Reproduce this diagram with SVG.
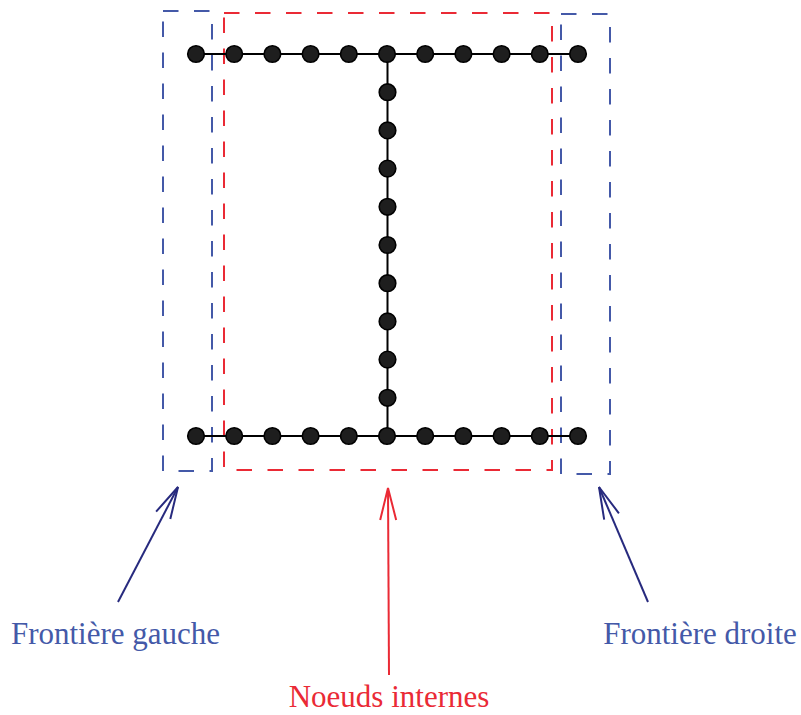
<svg xmlns="http://www.w3.org/2000/svg" width="801" height="715" viewBox="0 0 801 715">
<style>
.dot{fill:#1e1e1e;stroke:#000;stroke-width:1.6}
.beam{stroke:#000;stroke-width:2;fill:none}
.bbox{fill:none;stroke:#4459a8;stroke-width:2;stroke-dasharray:15.5 15.5}
.rbox{fill:none;stroke:#ea2a35;stroke-width:2;stroke-dasharray:15.5 15.5}
.arrB{stroke:#272a7e;stroke-width:2;fill:none}
.arrR{stroke:#ea2a35;stroke-width:2;fill:none}
.lbl{font-family:"Liberation Serif","DejaVu Serif",serif;font-size:31px}
</style>
<defs>
<marker id="hB" markerUnits="userSpaceOnUse" orient="auto" markerWidth="40" markerHeight="24" refX="0" refY="0" viewBox="-36 -12 40 24" overflow="visible">
<path d="M -32 -8 L 0 0 L -32 8" fill="none" stroke="#272a7e" stroke-width="2"/>
</marker>
<marker id="hR" markerUnits="userSpaceOnUse" orient="auto" markerWidth="40" markerHeight="24" refX="0" refY="0" viewBox="-36 -12 40 24" overflow="visible">
<path d="M -32 -8 L 0 0 L -32 8" fill="none" stroke="#ea2a35" stroke-width="2"/>
</marker>
</defs>
<g id="regions">
<rect id="frontiere-gauche-box" class="bbox" x="163" y="11" width="49" height="460"/>
<rect id="noeuds-internes-box" class="rbox" x="224" y="13" width="328" height="457"/>
<rect id="frontiere-droite-box" class="bbox" x="561" y="14" width="49" height="460"/>
</g>
<g id="connectors">
<path class="beam" d="M196 54H578M196 436H578M387.5 54V436"/>
<path class="arrB" d="M118 602L178 487" marker-end="url(#hB)"/>
<path class="arrR" d="M389 675L388 488" marker-end="url(#hR)"/>
<path class="arrB" d="M648 602L599 487" marker-end="url(#hB)"/>
</g>
<g id="nodes">
<g id="top-row">
<circle class="dot" cx="196" cy="54" r="8.3"/><circle class="dot" cx="234.2" cy="54" r="8.3"/><circle class="dot" cx="272.4" cy="54" r="8.3"/><circle class="dot" cx="310.6" cy="54" r="8.3"/><circle class="dot" cx="348.8" cy="54" r="8.3"/><circle class="dot" cx="387" cy="54" r="8.3"/><circle class="dot" cx="425.2" cy="54" r="8.3"/><circle class="dot" cx="463.4" cy="54" r="8.3"/><circle class="dot" cx="501.6" cy="54" r="8.3"/><circle class="dot" cx="539.8" cy="54" r="8.3"/><circle class="dot" cx="578" cy="54" r="8.3"/>
</g>
<g id="web">
<circle class="dot" cx="387.5" cy="92.2" r="8.3"/><circle class="dot" cx="387.5" cy="130.4" r="8.3"/><circle class="dot" cx="387.5" cy="168.6" r="8.3"/><circle class="dot" cx="387.5" cy="206.8" r="8.3"/><circle class="dot" cx="387.5" cy="245" r="8.3"/><circle class="dot" cx="387.5" cy="283.2" r="8.3"/><circle class="dot" cx="387.5" cy="321.4" r="8.3"/><circle class="dot" cx="387.5" cy="359.6" r="8.3"/><circle class="dot" cx="387.5" cy="397.8" r="8.3"/>
</g>
<g id="bottom-row">
<circle class="dot" cx="196" cy="436" r="8.3"/><circle class="dot" cx="234.2" cy="436" r="8.3"/><circle class="dot" cx="272.4" cy="436" r="8.3"/><circle class="dot" cx="310.6" cy="436" r="8.3"/><circle class="dot" cx="348.8" cy="436" r="8.3"/><circle class="dot" cx="387" cy="436" r="8.3"/><circle class="dot" cx="425.2" cy="436" r="8.3"/><circle class="dot" cx="463.4" cy="436" r="8.3"/><circle class="dot" cx="501.6" cy="436" r="8.3"/><circle class="dot" cx="539.8" cy="436" r="8.3"/><circle class="dot" cx="578" cy="436" r="8.3"/>
</g>
</g>
<g id="labels">
<text id="lbl-gauche" class="lbl" x="115.5" y="644" text-anchor="middle" fill="#4459a8">Frontière gauche</text>
<text id="lbl-internes" class="lbl" x="389" y="707" text-anchor="middle" fill="#ea2a35">Noeuds internes</text>
<text id="lbl-droite" class="lbl" x="700" y="644" text-anchor="middle" fill="#4459a8">Frontière droite</text>
</g>
</svg>
